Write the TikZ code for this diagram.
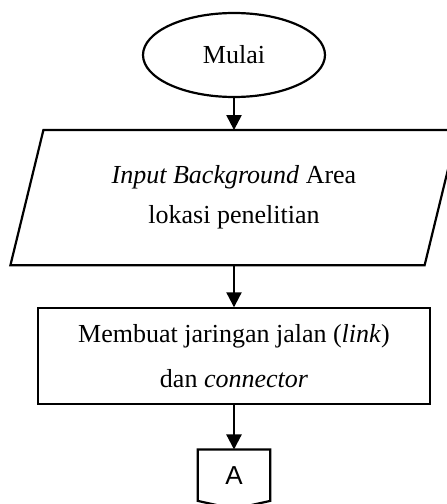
\documentclass[tikz,border=0pt]{standalone}
\usepackage{fontspec}
\setmainfont{Liberation Serif}
\newfontfamily\arialfont{Liberation Sans}
\usetikzlibrary{positioning,arrows.meta,shapes.geometric}
\tikzset{terminal/.style={draw,ellipse,line width=2.2pt,minimum width=182pt,minimum height=84pt,inner sep=0pt,font=\fontsize{26}{42}\selectfont},
masukan/.style={rectangle,line width=2.2pt,minimum width=412pt,minimum height=133pt,align=center,font=\fontsize{26}{40}\selectfont},
proses/.style={draw,rectangle,line width=2.2pt,minimum width=392pt,minimum height=96pt,align=center,font=\fontsize{26}{45}\selectfont},
konektor/.style={minimum width=72pt,minimum height=51pt,inner sep=0pt,font=\arialfont\fontsize{26}{30}\selectfont},
garis/.style={line width=2.2pt},
panah/.style={draw,line width=2.2pt,-{Triangle[length=15pt,width=15pt]}}}

\begin{document}
\begin{tikzpicture}[x=1pt,y=1pt]
\useasboundingbox (0,0) rectangle (447,504);
\node[terminal] (mulai) at (234,449) {Mulai};
\node[masukan,below=32pt of mulai] (input) {\textit{Input Background} Area\\lokasi penelitian};
\node[proses,below=42pt of input] (jaringan) {Membuat jaringan jalan (\textit{link})\\dan \textit{connector}};
\node[konektor,below=44pt of jaringan] (hal) {A};
% jajar genjang input
\draw[garis] ([xshift=-16.5pt]input.south west) -- ([xshift=16.5pt]input.north west) -- ([xshift=16.5pt]input.north east) -- ([xshift=-16.5pt]input.south east) -- cycle;
% konektor halaman
\draw[garis] (hal.south west) -- (hal.north west) -- (hal.north east) -- (hal.south east) -- ([yshift=-8pt]hal.south) -- cycle;
\draw[panah] (mulai) -- (input);
\draw[panah] (input) -- (jaringan);
\draw[panah] (jaringan) -- (hal);
\end{tikzpicture}
\end{document}
